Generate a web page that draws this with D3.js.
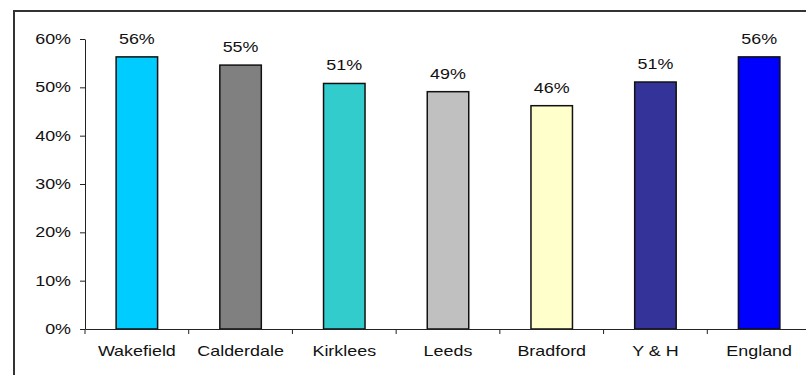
<!DOCTYPE html>
<html>
<head>
<meta charset="utf-8">
<script src="https://cdn.jsdelivr.net/npm/d3@7"></script>
<style>
  html, body { margin: 0; padding: 0; background: #fff; overflow: hidden; }
  svg { display: block; }
  text { font-family: "Liberation Sans", Arial, sans-serif; fill: #111; }
</style>
</head>
<body>
<svg id="chart" width="806" height="375"></svg>
<script>
// Share of adults by area
const areas  = ["Wakefield", "Calderdale", "Kirklees", "Leeds", "Bradford", "Y & H", "England"];
const shares = [0.563, 0.546, 0.508, 0.491, 0.462, 0.511, 0.563];
const fills  = ["#00CCFF", "#808080", "#33CCCC", "#C0C0C0", "#FFFFCC", "#333399", "#0000FF"];
const yTickValues = [0, 0.1, 0.2, 0.3, 0.4, 0.5, 0.6];

const W = 806, H = 375;
const plot = { left: 85, right: 811, top: 39, bottom: 329 };
const stretch = 1.28;        // glyphs are drawn wide
const fontSize = 14;

const svg = d3.select("#chart");

// chart frame: only its top and left edges fall inside the view
svg.append("path")
  .attr("d", `M14,${H}V11H${W}`)
  .attr("fill", "none")
  .attr("stroke", "#333").attr("stroke-width", 2);

const x = d3.scaleBand()
  .domain(areas)
  .range([plot.left, plot.right])
  .paddingInner(0.6)
  .paddingOuter(0.3);

const y = d3.scaleLinear()
  .domain([0, 0.6])
  .range([plot.bottom, plot.top]);

// y axis
const yAxis = svg.append("g")
  .attr("transform", `translate(${plot.left},0)`)
  .call(d3.axisLeft(y).tickValues(yTickValues).tickFormat(d3.format(".0%")).tickSize(5).tickSizeOuter(0));
yAxis.select(".domain").attr("stroke", "#222");
yAxis.selectAll(".tick line").attr("stroke", "#222");
yAxis.selectAll(".tick text")
  .attr("font-size", fontSize)
  .attr("font-family", null)
  .attr("x", -14 / stretch)
  .attr("transform", `scale(${stretch},1)`);

// bars
svg.append("g").selectAll("rect")
  .data(areas)
  .join("rect")
  .attr("x", d => x(d))
  .attr("width", x.bandwidth())
  .attr("y", (d, i) => y(shares[i]))
  .attr("height", (d, i) => y(0) - y(shares[i]))
  .attr("fill", (d, i) => fills[i])
  .attr("stroke", "#111")
  .attr("stroke-width", 1.5);

// value labels
svg.append("g").selectAll("text")
  .data(areas)
  .join("text")
  .attr("text-anchor", "middle")
  .attr("font-size", fontSize)
  .attr("transform", (d, i) => `translate(${x(d) + x.bandwidth() / 2},${y(shares[i]) - 13}) scale(${stretch},1)`)
  .text((d, i) => d3.format(".0%")(shares[i]));

// x axis
const xAxis = svg.append("g")
  .attr("transform", `translate(0,${plot.bottom})`)
  .call(d3.axisBottom(x).tickSize(0).tickSizeOuter(0).tickPadding(0));
xAxis.select(".domain").attr("stroke", "#222");
xAxis.selectAll(".tick text")
  .attr("font-size", fontSize)
  .attr("font-family", null)
  .attr("dy", null)
  .attr("y", 27)
  .attr("transform", `scale(${stretch},1)`);

// category boundary ticks
const step = x.step();
const boundaries = d3.range(areas.length + 1).map(i => x(areas[0]) - step * x.paddingInner() / 2 + i * step);
xAxis.append("g").selectAll("line")
  .data(boundaries)
  .join("line")
  .attr("x1", d => d).attr("x2", d => d)
  .attr("y1", 0).attr("y2", 5)
  .attr("stroke", "#222");
</script>
</body>
</html>
